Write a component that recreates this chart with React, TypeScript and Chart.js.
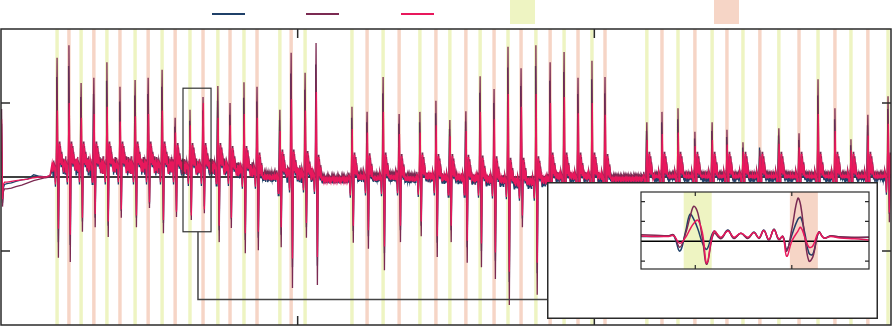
import React, { useEffect, useRef } from 'react';
import { Chart, registerables } from 'chart.js';
Chart.register(...registerables);

// ---------------- data ----------------
// time axis in seconds (0..3), amplitude axis -2..2
const xTicks = [1, 2];
const yTicks = [-1, 1];

// lead-in segment (before the noisy section), per series
const leadT = [0, 0.002, 0.005, 0.008, 0.012, 0.02, 0.035, 0.05, 0.07, 0.09, 0.11, 0.13, 0.15, 0.165];
const navyLead = [0.3, 0.72, -0.35, -0.15, -0.1, -0.09, -0.08, -0.06, -0.04, -0.03, 0.03, 0.01, 0.0, 0.02];
const maroonLead = [0.4, 0.92, -0.4, -0.2, -0.16, -0.16, -0.15, -0.13, -0.11, -0.08, -0.05, -0.03, -0.01, 0.0];
const pinkLead = [0.35, 0.78, -0.3, -0.1, -0.07, -0.07, -0.06, -0.05, -0.04, -0.03, -0.01, 0.0, 0.0, 0.02];
const noiseStart = 0.172;

// beats (spikes)
const beatTimes = [0.189, 0.229, 0.270, 0.313, 0.357, 0.401, 0.452, 0.496, 0.543, 0.587, 0.637, 0.681, 0.731, 0.772, 0.819, 0.863, 0.940, 0.978, 1.025, 1.062, 1.183, 1.234, 1.288, 1.342, 1.412, 1.466, 1.513, 1.567, 1.615, 1.662, 1.709, 1.753, 1.803, 1.851, 1.898, 1.945, 1.992, 2.036, 2.177, 2.228, 2.282, 2.339, 2.397, 2.447, 2.501, 2.558, 2.622, 2.690, 2.754, 2.811, 2.865, 2.922, 2.990];
const maroonPeak = [1.61, 1.78, 1.27, 1.34, 1.55, 1.22, 1.31, 1.34, 1.45, 0.80, 0.91, 1.08, 1.23, 1.00, 1.28, 1.22, 0.91, 1.68, 1.41, 1.81, 0.95, 0.88, 1.35, 0.85, 0.88, 1.03, 0.77, 0.89, 1.36, 1.19, 1.76, 1.47, 1.78, 1.55, 1.69, 1.34, 1.57, 1.35, 0.74, 0.88, 0.93, 0.61, 0.74, 0.64, 0.47, 0.36, 0.66, 0.59, 1.32, 0.93, 0.51, 0.84, 1.09];
const maroonTrough = [-1.09, -1.15, -0.74, -0.68, -0.81, -0.55, -0.68, -0.42, -0.76, -0.54, -0.58, -0.49, -0.88, -0.69, -1.03, -0.99, -0.95, -1.50, -0.82, -1.46, -0.89, -0.97, -1.26, -0.88, -0.80, -1.08, -0.88, -1.16, -1.22, -1.38, -1.73, -0.68, -1.59, -1.20, -1.30, -1.00, -1.10, -0.90, -0.60, -0.60, -0.60, -0.50, -0.50, -0.50, -0.40, -0.40, -0.50, -0.50, -0.80, -0.70, -0.50, -0.60, -0.61];
const navyPeak = [1.35, 1.50, 1.08, 1.12, 1.30, 1.02, 1.10, 1.12, 1.22, 0.68, 0.76, 0.90, 1.03, 0.84, 1.07, 1.02, 0.77, 1.40, 1.18, 1.52, 0.80, 0.74, 1.13, 0.72, 0.74, 0.86, 0.65, 0.75, 1.14, 1.00, 1.48, 1.23, 1.50, 1.30, 1.42, 1.12, 1.32, 1.13, 0.62, 0.74, 0.78, 0.52, 0.62, 0.54, 0.40, 0.40, 0.56, 0.50, 1.10, 0.78, 0.43, 0.70, 0.92];
const navyTrough = [-0.88, -0.92, -0.60, -0.55, -0.66, -0.46, -0.55, -0.36, -0.62, -0.45, -0.48, -0.40, -0.72, -0.57, -0.85, -0.82, -0.78, -1.22, -0.68, -1.20, -0.73, -0.80, -1.03, -0.72, -0.66, -0.89, -0.72, -0.95, -1.00, -1.13, -1.42, -0.56, -1.30, -0.98, -1.07, -0.82, -0.90, -0.74, -0.50, -0.50, -0.50, -0.42, -0.42, -0.42, -0.34, -0.34, -0.42, -0.42, -0.66, -0.58, -0.42, -0.50, -0.50];
const pinkPeak = [0.90, 1.00, 0.80, 0.85, 0.95, 0.75, 0.82, 0.85, 0.90, 0.60, 0.70, 1.00, 0.80, 0.70, 0.85, 0.80, 0.62, 1.05, 0.90, 1.15, 0.65, 0.60, 0.88, 0.58, 0.60, 0.70, 0.55, 0.62, 0.88, 0.78, 1.12, 0.95, 1.12, 1.00, 1.08, 0.86, 1.00, 0.84, 0.50, 0.58, 0.60, 0.42, 0.50, 0.44, 0.34, 0.28, 0.45, 0.40, 0.85, 0.62, 0.36, 0.56, 0.72];
const pinkTrough = [-0.70, -0.78, -0.55, -0.50, -0.60, -0.44, -0.52, -0.34, -0.58, -0.47, -0.52, -0.44, -0.66, -0.55, -0.76, -0.74, -0.68, -1.10, -0.62, -1.08, -0.66, -0.72, -0.94, -0.66, -0.60, -0.80, -0.66, -0.86, -0.90, -1.02, -1.28, -0.52, -1.16, -0.88, -0.96, -0.74, -0.82, -0.66, -0.46, -0.46, -0.46, -0.38, -0.38, -0.38, -0.32, -0.32, -0.38, -0.38, -0.60, -0.52, -0.38, -0.46, -0.48];

// level and ripple size of the trace between beats (index 0 = before the first beat)
const gapLevel = [0.12, 0.15, 0.15, 0.15, 0.15, 0.15, 0.15, 0.15, 0.15, 0.15, 0.13, 0.13, 0.13, 0.13, 0.09, 0.09, 0.00, 0.04, 0.04, 0.02, -0.03, 0.00, -0.01, 0.00, -0.02, 0.00, -0.02, -0.02, -0.03, -0.04, -0.05, -0.07, -0.07, -0.05, 0.00, 0.00, 0.00, 0.00, -0.02, 0.01, 0.01, 0.01, 0.01, 0.01, 0.01, 0.01, 0.01, 0.01, 0.01, 0.01, 0.01, 0.01, 0.01, 0.00];
const gapNoise = [0.08, 0.10, 0.10, 0.10, 0.10, 0.10, 0.10, 0.10, 0.10, 0.10, 0.09, 0.09, 0.09, 0.09, 0.08, 0.08, 0.04, 0.08, 0.09, 0.08, 0.02, 0.04, 0.035, 0.035, 0.035, 0.035, 0.04, 0.04, 0.04, 0.05, 0.05, 0.06, 0.06, 0.05, 0.04, 0.04, 0.04, 0.04, 0.015, 0.025, 0.025, 0.025, 0.025, 0.025, 0.025, 0.025, 0.025, 0.025, 0.025, 0.025, 0.025, 0.025, 0.025, 0.025];
const rippleShape = [0.8, -0.6, 1.0, -0.4, 0.5, -0.9, 0.9, -0.2, 0.7, -1.0, 0.3, -0.7, 1.0, -0.5, 0.6, -0.8, 0.4, -0.3, 0.9, -0.9];
// beat waveform: time offsets and values relative to the local level ('P' = peak, 'T' = trough)
const beatOffsets = [-0.0105, -0.0075, -0.0055, -0.003, 0, 0.0045, 0.0075, 0.0095, 0.0115, 0.0135, 0.016, 0.019];
const beatShape: (number | 'P' | 'T')[] = [0.06, 0.0, -0.22, 0.05, 'P', 'T', 0.3, 0.04, 0.24, 0.02, 0.16, 0.0];

// highlighted windows
const bandTimes = [0.189, 0.229, 0.270, 0.313, 0.357, 0.401, 0.452, 0.496, 0.543, 0.587, 0.637, 0.681, 0.731, 0.772, 0.819, 0.863, 0.940, 0.978, 1.025, 1.183, 1.234, 1.288, 1.342, 1.412, 1.466, 1.513, 1.567, 1.615, 1.662, 1.709, 1.753, 1.803, 1.851, 1.898, 1.945, 1.992, 2.036, 2.177, 2.228, 2.282, 2.339, 2.397, 2.447, 2.501, 2.558, 2.622, 2.690, 2.754, 2.811, 2.865, 2.922, 2.990];
const bandKinds = ['Y', 'S', 'Y', 'S', 'Y', 'S', 'Y', 'S', 'Y', 'S', 'Y', 'S', 'Y', 'S', 'Y', 'S', 'Y', 'S', 'Y', 'Y', 'S', 'Y', 'S', 'Y', 'S', 'Y', 'S', 'Y', 'S', 'Y', 'S', 'Y', 'S', 'Y', 'S', 'Y', 'S', 'Y', 'S', 'Y', 'S', 'Y', 'S', 'Y', 'S', 'Y', 'S', 'Y', 'S', 'Y', 'S', 'Y'];

// zoom window (main chart box) and inset detail
const zoomBox = { x0: 0.6135, x1: 0.708, y0: -0.74, y1: 1.2 };
const connector = { x: 0.664, y: -1.655 };
const insetT = [0.6135, 0.6195, 0.625, 0.627, 0.6296, 0.632, 0.6338, 0.6354, 0.6371, 0.639, 0.6408, 0.6437, 0.6466, 0.6495, 0.652, 0.6549, 0.6578, 0.6603, 0.6624, 0.6644, 0.6665, 0.6686, 0.6706, 0.6723, 0.6739, 0.676, 0.6785, 0.6797, 0.6814, 0.6831, 0.6847, 0.6872, 0.6893, 0.6922, 0.696, 0.702, 0.708];
const insetNavy = [0.12, 0.12, 0.13, 0.15, -0.25, 0.25, 0.68, 0.55, 0.3, -0.05, -0.2, 0.25, 0.08, 0.28, 0.08, 0.2, 0.08, 0.23, 0.08, 0.28, 0.03, 0.3, 0.05, 0.12, -0.2, 0.15, 0.55, 0.6, 0.2, -0.3, -0.33, 0.23, 0.08, 0.13, 0.1, 0.09, 0.1];
const insetMaroon = [0.16, 0.15, 0.14, 0.16, -0.15, 0.2, 0.6, 0.88, 0.7, 0.05, -0.58, 0.2, 0.06, 0.27, 0.07, 0.2, 0.07, 0.22, 0.07, 0.27, 0.03, 0.3, 0.04, 0.12, -0.25, 0.3, 1.08, 0.9, 0.1, -0.5, -0.4, 0.23, 0.08, 0.14, 0.11, 0.1, 0.1];
const insetPink = [0.13, 0.12, 0.12, 0.14, -0.05, 0.1, 0.3, 0.45, 0.53, 0.2, -0.55, 0.25, 0.1, 0.26, 0.1, 0.2, 0.1, 0.22, 0.09, 0.27, 0.05, 0.28, 0.06, 0.12, -0.38, 0.0, 0.25, 0.35, 0.1, -0.15, -0.12, 0.22, 0.08, 0.12, 0.08, 0.06, 0.03];
const insetXTicks = [0.636, 0.676];
const insetYTicks = [-0.5, 0.5, 1.0];
const insetYRange = { min: -0.7, max: 1.24 };

// ---------------- styles ----------------
const NAVY = '#1f4068';
const MAROON = '#7b2a52';
const PINK = '#e8185c';
const YELLOW = '#eef4c2';
const SALMON = '#f6d5c6';
const FRAME = '#2a2a2a';
const BAND_HALF = 0.0058;
const STEP = 0.0017;
const INSET = { left: 547, top: 182, width: 331, height: 137 };

type Pt = { x: number; y: number };

function buildSeries(lead: number[], peaks: number[], troughs: number[], peakShift: number, levelShift: number, phase: number): Pt[] {
  const pts: Pt[] = [];
  leadT.forEach((t, i) => pts.push({ x: t, y: lead[i] }));
  let k = phase;
  const ripple = (from: number, to: number, level: number, amp: number) => {
    for (let t = from; t < to; t += STEP) {
      pts.push({ x: t, y: level + levelShift + amp * rippleShape[k % rippleShape.length] });
      k++;
    }
  };
  const first = beatOffsets[0];
  const last = beatOffsets[beatOffsets.length - 1];
  ripple(noiseStart, beatTimes[0] + first, gapLevel[0], gapNoise[0]);
  beatTimes.forEach((bt, i) => {
    const pre = gapLevel[i] + levelShift;
    const post = gapLevel[i + 1] + levelShift;
    beatOffsets.forEach((off, j) => {
      const s = beatShape[j];
      if (s === 'P') pts.push({ x: bt + peakShift, y: peaks[i] });
      else if (s === 'T') pts.push({ x: bt + off, y: troughs[i] });
      else pts.push({ x: bt + off, y: (off < 0 ? pre : post) + s });
    });
    const next = i + 1 < beatTimes.length ? beatTimes[i + 1] + first : 3;
    ripple(bt + last + STEP, next, gapLevel[i + 1], gapNoise[i + 1]);
  });
  return pts;
}

function makeDecor(opts: {
  xTicks: number[]; yTicks: number[]; tickLen: number; frameWidth: number;
  box?: boolean; outer?: boolean;
}) {
  return {
    id: 'decor',
    beforeDatasetsDraw(chart: any) {
      const { ctx, chartArea: a, scales } = chart;
      const x = scales.x, y = scales.y;
      ctx.save();
      ctx.beginPath();
      ctx.rect(a.left, a.top, a.right - a.left, a.bottom - a.top);
      ctx.clip();
      bandTimes.forEach((t, i) => {
        ctx.fillStyle = bandKinds[i] === 'Y' ? YELLOW : SALMON;
        const x0 = x.getPixelForValue(t - BAND_HALF);
        const x1 = x.getPixelForValue(t + BAND_HALF);
        ctx.fillRect(x0, a.top, x1 - x0, a.bottom - a.top);
      });
      const z = y.getPixelForValue(0);
      ctx.strokeStyle = '#000';
      ctx.lineWidth = 1.5;
      ctx.beginPath();
      ctx.moveTo(a.left, z);
      ctx.lineTo(a.right, z);
      ctx.stroke();
      ctx.restore();
    },
    afterDatasetsDraw(chart: any) {
      const { ctx, chartArea: a, scales } = chart;
      const x = scales.x, y = scales.y;
      ctx.save();
      ctx.strokeStyle = FRAME;
      ctx.lineWidth = opts.frameWidth;
      const L = opts.tickLen;
      ctx.beginPath();
      opts.xTicks.forEach((t) => {
        const px = x.getPixelForValue(t);
        ctx.moveTo(px, a.top); ctx.lineTo(px, a.top + L);
        ctx.moveTo(px, a.bottom); ctx.lineTo(px, a.bottom - L);
      });
      opts.yTicks.forEach((v) => {
        const py = y.getPixelForValue(v);
        ctx.moveTo(a.left, py); ctx.lineTo(a.left + L, py);
        ctx.moveTo(a.right, py); ctx.lineTo(a.right - L, py);
      });
      ctx.stroke();
      ctx.strokeRect(a.left, a.top, a.right - a.left, a.bottom - a.top);
      if (opts.box) {
        ctx.strokeStyle = '#333';
        ctx.lineWidth = 1.2;
        const bx0 = x.getPixelForValue(zoomBox.x0), bx1 = x.getPixelForValue(zoomBox.x1);
        const by0 = y.getPixelForValue(zoomBox.y1), by1 = y.getPixelForValue(zoomBox.y0);
        ctx.strokeRect(bx0, by0, bx1 - bx0, by1 - by0);
        ctx.strokeStyle = '#444';
        ctx.lineWidth = 1.5;
        const cx = x.getPixelForValue(connector.x);
        const cy = y.getPixelForValue(connector.y);
        ctx.beginPath();
        ctx.moveTo(cx, by1);
        ctx.lineTo(cx, cy);
        ctx.lineTo(INSET.left, cy);
        ctx.stroke();
      }
      if (opts.outer) {
        ctx.strokeStyle = FRAME;
        ctx.lineWidth = 1.5;
        ctx.strokeRect(0.75, 0.75, chart.width - 1.5, chart.height - 1.5);
      }
      ctx.restore();
    },
  };
}

const lineDs = (label: string, data: Pt[], color: string, order: number, width: number, tension: number) => ({
  label, data, borderColor: color, backgroundColor: color, borderWidth: width,
  pointRadius: 0, tension, order, fill: false,
});

export default function App() {
  const mainRef = useRef<HTMLCanvasElement>(null);
  const insetRef = useRef<HTMLCanvasElement>(null);

  useEffect(() => {
    const navy = buildSeries(navyLead, navyPeak, navyTrough, -0.0012, -0.03, 7);
    const maroon = buildSeries(maroonLead, maroonPeak, maroonTrough, 0, 0.03, 3);
    const pink = buildSeries(pinkLead, pinkPeak, pinkTrough, 0.0012, 0, 0);

    const main = new Chart(mainRef.current as HTMLCanvasElement, {
      type: 'line',
      data: {
        datasets: [
          lineDs('navy', navy, NAVY, 3, 1.3, 0),
          lineDs('maroon', maroon, MAROON, 2, 1.3, 0),
          lineDs('pink', pink, PINK, 1, 1.3, 0),
        ],
      },
      options: {
        animation: false,
        responsive: false,
        parsing: false,
        normalized: true,
        layout: { padding: { left: 1, right: 1, top: 29, bottom: 1 } },
        scales: {
          x: { type: 'linear', min: 0, max: 3, display: false },
          y: { type: 'linear', min: -2, max: 2, display: false },
        },
        plugins: { legend: { display: false }, tooltip: { enabled: false } },
      } as any,
      plugins: [makeDecor({ xTicks, yTicks, tickLen: 9, frameWidth: 1.5, box: true })],
    });

    const toPts = (vals: number[]) => insetT.map((t, i) => ({ x: t, y: vals[i] }));
    const inset = new Chart(insetRef.current as HTMLCanvasElement, {
      type: 'line',
      data: {
        datasets: [
          lineDs('navy', toPts(insetNavy), NAVY, 3, 1.5, 0.4),
          lineDs('maroon', toPts(insetMaroon), MAROON, 2, 1.5, 0.4),
          lineDs('pink', toPts(insetPink), PINK, 1, 1.5, 0.4),
        ],
      },
      options: {
        animation: false,
        responsive: false,
        parsing: false,
        layout: { padding: { left: 94, right: 9, top: 10, bottom: 50 } },
        scales: {
          x: { type: 'linear', min: zoomBox.x0, max: zoomBox.x1, display: false },
          y: { type: 'linear', min: insetYRange.min, max: insetYRange.max, display: false },
        },
        plugins: { legend: { display: false }, tooltip: { enabled: false } },
      } as any,
      plugins: [makeDecor({ xTicks: insetXTicks, yTicks: insetYTicks, tickLen: 4, frameWidth: 1.2, outer: true })],
    });

    return () => {
      main.destroy();
      inset.destroy();
    };
  }, []);

  const legendLine = (left: number, color: string) => (
    <div style={{ position: 'absolute', left, top: 13, width: 33, height: 2, background: color }} />
  );
  const legendBox = (left: number, color: string) => (
    <div style={{ position: 'absolute', left, top: 0, width: 25, height: 24, background: color }} />
  );

  return (
    <div style={{ position: 'fixed', left: 0, top: 0, width: 892, height: 326, background: '#fff', overflow: 'hidden' }}>
      <canvas ref={mainRef} width={892} height={326} style={{ position: 'absolute', left: 0, top: 0 }} />
      {legendLine(212, NAVY)}
      {legendLine(306, MAROON)}
      {legendLine(401, PINK)}
      {legendBox(510, YELLOW)}
      {legendBox(714, SALMON)}
      <div style={{ position: 'absolute', left: INSET.left, top: INSET.top, width: INSET.width, height: INSET.height, background: '#fff' }}>
        <canvas ref={insetRef} width={INSET.width} height={INSET.height} style={{ position: 'absolute', left: 0, top: 0 }} />
      </div>
    </div>
  );
}
